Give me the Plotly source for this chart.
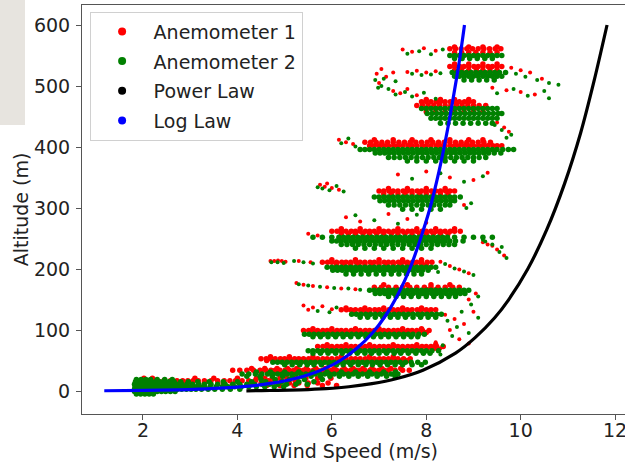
import plotly.graph_objects as go

# ---------------- data ----------------
# Each row: [altitude (m), [wind speeds (m/s) observed at about that altitude]]
anem1_rows = [
    [21, [2.02, 2.2, 3.1, 3.5, 4.0, 4.4, 4.58, 4.74, 4.9, 5.05, 5.24, 5.45, 5.7, 5.98]],
    [17, [2.3, 2.44, 2.58, 2.72, 2.84, 2.95, 3.06, 3.17, 3.3, 3.44, 3.58, 3.72, 3.84, 3.96, 4.1, 4.24, 4.38, 4.52, 4.66, 4.8, 4.94, 5.08, 5.22]],
    [13, [1.9, 2.12, 2.5, 2.88, 3.3, 3.7, 4.04, 4.28, 4.5, 4.7, 4.9, 5.1, 5.3, 5.5, 5.7, 5.92]],
    [9, [4.62, 4.9, 5.2, 5.48, 5.8, 6.1]],
    [37, [4.3, 4.58, 4.84, 5.06, 5.26, 5.46, 5.66, 5.86, 6.05, 6.26, 6.45, 6.66, 6.85, 7.06, 7.25, 7.46]],
    [34, [3.9, 4.05, 4.2, 4.34, 4.48, 4.6, 4.71, 4.8, 4.9, 5.01, 5.1, 5.2, 5.31, 5.4, 5.5, 5.61, 5.7, 5.8, 5.91, 6.0, 6.1, 6.21, 6.3, 6.4, 6.51, 6.6, 6.7, 6.81, 6.9, 7.0, 7.11, 7.2, 7.34, 7.5, 7.64]],
    [31, [4.5, 4.8, 5.1, 5.5, 5.9, 6.3, 6.7, 7.0]],
    [56, [4.7, 5.1, 5.6, 6.2, 6.8, 7.3]],
    [53, [4.5, 4.61, 4.7, 4.8, 4.91, 5.0, 5.1, 5.21, 5.3, 5.4, 5.51, 5.6, 5.7, 5.81, 5.9, 6.0, 6.11, 6.2, 6.3, 6.41, 6.5, 6.6, 6.71, 6.8, 6.9, 7.01, 7.1, 7.2, 7.31, 7.4, 7.52, 7.66]],
    [50, [4.62, 4.78, 4.93, 5.08, 5.24, 5.38, 5.53, 5.68, 5.84, 5.98, 6.13, 6.28, 6.44, 6.58, 6.73, 6.88, 7.04, 7.18, 7.33, 7.48, 7.6]],
    [76, [5.9, 6.3, 6.8, 7.3, 7.8, 8.2]],
    [73, [5.7, 5.81, 5.9, 6.0, 6.11, 6.2, 6.3, 6.41, 6.5, 6.6, 6.71, 6.8, 6.9, 7.01, 7.1, 7.2, 7.31, 7.4, 7.5, 7.61, 7.7, 7.8, 7.91, 8.0, 8.1, 8.22, 8.36]],
    [70, [5.92, 6.07, 6.22, 6.38, 6.52, 6.67, 6.82, 6.98, 7.12, 7.27, 7.42, 7.58, 7.72, 7.87, 8.02, 8.18]],
    [102, [5.6, 6.0, 6.5, 7.0, 7.5, 7.9]],
    [99, [5.4, 5.51, 5.6, 5.7, 5.81, 5.9, 6.0, 6.11, 6.2, 6.3, 6.41, 6.5, 6.6, 6.71, 6.8, 6.9, 7.01, 7.1, 7.2, 7.31, 7.4, 7.5, 7.61, 7.7, 7.8, 7.92, 8.06]],
    [96, [5.62, 5.77, 5.92, 6.08, 6.22, 6.37, 6.52, 6.68, 6.82, 6.97, 7.12, 7.28, 7.42, 7.57, 7.72, 7.88, 8.0]],
    [136, [6.3, 6.7, 7.1, 7.5, 7.9]],
    [133, [6.2, 6.31, 6.4, 6.5, 6.61, 6.7, 6.8, 6.91, 7.0, 7.1, 7.21, 7.3, 7.4, 7.51, 7.6, 7.7, 7.81, 7.9, 8.0, 8.1, 8.2]],
    [129, [6.45, 6.62, 6.8, 6.98, 7.15, 7.32, 7.5, 7.68, 7.85, 8.02]],
    [174, [7.1, 7.6, 8.1, 8.5]],
    [170, [6.9, 7.05, 7.2, 7.36, 7.5, 7.65, 7.8, 7.96, 8.1, 8.25, 8.4, 8.56, 8.7]],
    [166, [7.0, 7.22, 7.4, 7.62, 7.8, 8.02, 8.2, 8.42]],
    [215, [6.0, 6.5, 7.0, 7.5, 7.9]],
    [211, [5.8, 5.91, 6.0, 6.1, 6.21, 6.3, 6.4, 6.51, 6.6, 6.7, 6.81, 6.9, 7.0, 7.11, 7.2, 7.3, 7.41, 7.5, 7.6, 7.71, 7.8, 7.9, 8.02, 8.12]],
    [207, [6.1, 6.25, 6.4, 6.56, 6.7, 6.85, 7.0, 7.16, 7.3, 7.45, 7.6, 7.76, 7.9, 8.0]],
    [266, [6.2, 6.6, 7.0, 7.4, 7.8, 8.2, 8.6]],
    [262, [6.0, 6.11, 6.2, 6.3, 6.41, 6.5, 6.6, 6.71, 6.8, 6.9, 7.01, 7.1, 7.2, 7.31, 7.4, 7.5, 7.61, 7.7, 7.8, 7.91, 8.0, 8.1, 8.21, 8.3, 8.4, 8.51, 8.6, 8.72]],
    [258, [6.2, 6.35, 6.5, 6.66, 6.8, 6.95, 7.1, 7.26, 7.4, 7.55, 7.7, 7.86, 8.0, 8.15, 8.3, 8.46]],
    [332, [7.2, 7.6, 8.0, 8.4]],
    [328, [7.0, 7.1, 7.21, 7.3, 7.4, 7.51, 7.6, 7.7, 7.81, 7.9, 8.0, 8.11, 8.2, 8.3, 8.41, 8.5, 8.6]],
    [323, [7.1, 7.26, 7.4, 7.55, 7.7, 7.86, 8.0, 8.15, 8.3, 8.46]],
    [412, [6.9, 7.3, 7.7, 8.1, 8.5, 8.9, 9.2]],
    [408, [6.7, 6.82, 6.94, 7.06, 7.18, 7.3, 7.42, 7.54, 7.66, 7.78, 7.9, 8.02, 8.14, 8.26, 8.38, 8.5, 8.62, 8.74, 8.86, 8.98, 9.1, 9.22, 9.36]],
    [402, [6.8, 6.9, 7.01, 7.1, 7.2, 7.31, 7.4, 7.5, 7.61, 7.7, 7.8, 7.91, 8.0, 8.1, 8.21, 8.3, 8.4, 8.51, 8.6, 8.7, 8.81, 8.9, 9.0, 9.11, 9.2, 9.3, 9.41, 9.5, 9.6]],
    [478, [8.0, 8.3, 8.6, 8.9]],
    [474, [7.9, 8.0, 8.1, 8.21, 8.3, 8.4, 8.51, 8.6, 8.7, 8.81, 8.9, 9.0]],
    [468, [7.8, 7.92, 8.04, 8.16, 8.28, 8.4, 8.52, 8.64, 8.76, 8.88, 9.0, 9.12, 9.26]],
    [458, [8.0, 8.2, 8.4, 8.6, 8.8, 9.0, 9.2]],
    [536, [8.6, 8.9, 9.2, 9.5]],
    [532, [8.5, 8.6, 8.71, 8.8, 8.9, 9.01, 9.1, 9.2, 9.31, 9.4, 9.5, 9.6]],
    [526, [8.6, 8.75, 8.9, 9.06, 9.2, 9.35, 9.5]],
    [564, [8.6, 8.9, 9.2, 9.5]],
    [561, [8.5, 8.62, 8.74, 8.86, 8.98, 9.1, 9.22, 9.34, 9.46, 9.58]],
    [555, [8.6, 8.75, 8.9, 9.05, 9.2, 9.35, 9.5]],
]

# Isolated readings: [wind speed (m/s), altitude (m)]
anem1_scatter = [
    [5.4, 140], [5.6, 137], [5.8, 139], [6.0, 134], [5.5, 133],
    [5.25, 177], [5.4, 174], [5.6, 172], [5.9, 170], [6.2, 168], [6.5, 167],
    [4.7, 213], [4.78, 213], [4.86, 214], [4.94, 213], [5.02, 212], [5.3, 213], [5.55, 211],
    [8.3, 212], [8.5, 205], [8.7, 199], [8.9, 193],
    [5.5, 258], [5.7, 255], [9.2, 244], [9.4, 238],
    [6.3, 285], [6.6, 278], [7.2, 290], [7.6, 282], [8.0, 276],
    [5.75, 338], [5.85, 335], [6.0, 333], [6.15, 330], [5.9, 340],
    [7.4, 355], [8.0, 360], [8.5, 350], [9.0, 346], [9.3, 358], [8.8, 305],
    [6.15, 412], [6.3, 408], [6.45, 405],
    [9.5, 440], [9.65, 432], [9.75, 425],
    [7.3, 492], [7.45, 488], [7.6, 495], [7.8, 485], [9.4, 497], [9.7, 493], [10.0, 490], [10.3, 486],
    [7.6, 523], [7.8, 525], [8.0, 522], [8.2, 524],
    [6.95, 520], [7.05, 528], [7.15, 515], [7.3, 522], [7.0, 505],
    [9.8, 530], [10.0, 526], [10.2, 522], [10.45, 512],
    [7.5, 560], [7.7, 556], [7.95, 562], [8.2, 558],
    [8.4, 125], [8.6, 118], [8.8, 110], [8.5, 100], [8.7, 85], [8.9, 78], [8.3, 70], [9.0, 130], [8.2, 80],
    [9.3, 240], [9.5, 232], [9.65, 222], [8.9, 150], [9.05, 160],
]

anem2_rows = [
    [-5, [1.86, 1.95, 2.04, 2.13, 2.22]],
    [-1, [1.82, 1.9, 1.98, 2.06, 2.14, 2.22, 2.3, 2.39, 2.48, 2.58, 2.68]],
    [3, [1.82, 1.9, 1.98, 2.06, 2.14, 2.22, 2.3, 2.38, 2.46, 2.55, 2.64, 2.73, 2.82, 2.92, 3.02, 3.12, 3.24, 3.38, 3.52, 3.68, 3.85, 4.05]],
    [7, [1.83, 1.92, 2.0, 2.08, 2.16, 2.24, 2.32, 2.4, 2.48, 2.56, 2.64, 2.72, 2.8, 2.9, 3.0, 3.1, 3.2, 3.3, 3.42, 3.55, 3.68, 3.8, 3.94, 4.08, 4.24, 4.4, 4.58, 4.78, 4.98]],
    [11, [1.82, 1.9, 1.98, 2.06, 2.14, 2.22, 2.3, 2.38, 2.46, 2.55, 2.64, 2.72, 2.82, 2.93, 3.05, 3.18, 3.3, 3.44, 3.58, 3.74, 3.9, 4.05, 4.2, 4.36, 4.52, 4.68, 4.86, 5.04, 5.24, 5.48]],
    [15, [1.84, 1.92, 2.0, 2.09, 2.18, 2.27, 2.36, 2.45, 2.55, 2.66, 2.8, 2.96, 3.16, 3.4, 3.7, 4.0, 4.3, 4.6, 4.94, 5.3, 5.62]],
    [19, [1.86, 1.96, 2.06, 2.16, 2.3, 2.46, 2.62, 4.5, 4.8, 5.1, 5.42, 5.8]],
    [31, [4.4, 4.7, 5.0, 5.3, 5.6, 5.9, 6.2, 6.5, 6.8, 7.1, 7.35]],
    [28, [4.1, 4.24, 4.38, 4.52, 4.64, 4.75, 4.85, 4.95, 5.05, 5.15, 5.25, 5.35, 5.45, 5.55, 5.65, 5.75, 5.85, 5.95, 6.05, 6.15, 6.25, 6.35, 6.45, 6.55, 6.65, 6.75, 6.85, 6.95, 7.05, 7.15, 7.26, 7.4]],
    [24, [4.2, 4.48, 4.74, 4.96, 5.16, 5.36, 5.56, 5.76, 5.96, 6.16, 6.36, 6.56, 6.76, 6.96, 7.16, 7.34]],
    [47, [4.75, 4.85, 4.95, 5.05, 5.15, 5.25, 5.35, 5.45, 5.55, 5.65, 5.75, 5.85, 5.95, 6.05, 6.15, 6.25, 6.35, 6.45, 6.55, 6.65, 6.75, 6.85, 6.95, 7.05, 7.15, 7.25, 7.35, 7.45, 7.56, 7.68, 7.82, 7.98]],
    [43, [5.0, 5.16, 5.32, 5.48, 5.62, 5.78, 5.94, 6.1, 6.24, 6.4, 6.56, 6.72, 6.86, 7.02, 7.18, 7.34, 7.5, 7.7, 7.9]],
    [66, [5.5, 5.6, 5.7, 5.8, 5.9, 6.0, 6.1, 6.2, 6.3, 6.4, 6.5, 6.6, 6.7, 6.8, 6.9, 7.0, 7.1, 7.2, 7.3, 7.4, 7.5, 7.6, 7.7, 7.8, 7.9, 8.0, 8.12, 8.26]],
    [62, [5.6, 5.76, 5.92, 6.08, 6.22, 6.38, 6.54, 6.7, 6.84, 7.0, 7.16, 7.32, 7.46, 7.62, 7.78, 7.94, 8.08]],
    [93, [5.42, 5.52, 5.62, 5.72, 5.82, 5.92, 6.02, 6.12, 6.22, 6.32, 6.42, 6.52, 6.62, 6.72, 6.82, 6.92, 7.02, 7.12, 7.22, 7.32, 7.42, 7.52, 7.62, 7.72, 7.84, 7.96]],
    [89, [5.6, 5.76, 5.92, 6.08, 6.24, 6.4, 6.56, 6.72, 6.88, 7.04, 7.2, 7.36, 7.52, 7.68, 7.82]],
    [126, [6.42, 6.52, 6.62, 6.72, 6.82, 6.92, 7.02, 7.12, 7.22, 7.32, 7.42, 7.52, 7.62, 7.72, 7.82, 7.92, 8.02, 8.12, 8.22, 8.32]],
    [121, [6.6, 6.76, 6.92, 7.08, 7.24, 7.4, 7.56, 7.72, 7.88, 8.04, 8.2]],
    [165, [6.8, 6.9, 7.0, 7.1, 7.2, 7.3, 7.4, 7.5, 7.6, 7.7, 7.8, 7.9, 8.0, 8.1, 8.2, 8.3, 8.4, 8.5, 8.6, 8.7, 8.8, 8.9]],
    [160, [6.92, 7.02, 7.12, 7.22, 7.32, 7.42, 7.52, 7.62, 7.72, 7.82, 7.92, 8.02, 8.12, 8.22, 8.32, 8.42, 8.52, 8.62, 8.72, 8.82]],
    [155, [7.2, 7.36, 7.52, 7.68, 7.84, 8.0, 8.16, 8.32, 8.48, 8.62]],
    [203, [5.9, 6.0, 6.1, 6.2, 6.3, 6.4, 6.5, 6.6, 6.7, 6.8, 6.9, 7.0, 7.1, 7.2, 7.3, 7.4, 7.5, 7.6, 7.7, 7.8, 7.9, 8.0, 8.1, 8.2]],
    [198, [6.02, 6.12, 6.22, 6.32, 6.42, 6.52, 6.62, 6.72, 6.82, 6.92, 7.02, 7.12, 7.22, 7.32, 7.42, 7.52, 7.62, 7.72, 7.82, 7.92, 8.04]],
    [192, [6.3, 6.46, 6.62, 6.78, 6.94, 7.1, 7.26, 7.42, 7.58, 7.74, 7.9]],
    [252, [5.6, 5.8, 6.0, 6.15, 6.25, 6.35, 6.45, 6.55, 6.65, 6.75, 6.85, 6.95, 7.05, 7.15, 7.25, 7.35, 7.45, 7.55, 7.65, 7.75, 7.85, 7.95, 8.05, 8.15, 8.25, 8.35, 8.45, 8.6, 8.8, 9.0, 9.2, 9.4]],
    [246, [6.0, 6.1, 6.2, 6.3, 6.4, 6.5, 6.6, 6.7, 6.8, 6.9, 7.0, 7.1, 7.2, 7.3, 7.4, 7.5, 7.6, 7.7, 7.8, 7.9, 8.0, 8.1, 8.2, 8.3, 8.4, 8.5, 8.62, 8.78]],
    [240, [6.2, 6.32, 6.44, 6.56, 6.68, 6.8, 6.92, 7.04, 7.16, 7.28, 7.4, 7.52, 7.64, 7.76, 7.88, 8.0, 8.12, 8.24, 8.36, 8.48, 8.6]],
    [234, [6.5, 6.7, 6.9, 7.1, 7.3, 7.5, 7.7, 7.9, 8.1]],
    [318, [6.9, 7.0, 7.1, 7.2, 7.3, 7.4, 7.5, 7.6, 7.7, 7.8, 7.9, 8.0, 8.1, 8.2, 8.3, 8.4, 8.5, 8.6, 8.72]],
    [312, [7.02, 7.12, 7.22, 7.32, 7.42, 7.52, 7.62, 7.72, 7.82, 7.92, 8.02, 8.12, 8.22, 8.32, 8.42, 8.52, 8.6]],
    [305, [7.2, 7.32, 7.44, 7.56, 7.68, 7.8, 7.92, 8.04, 8.16, 8.28, 8.4, 8.5]],
    [298, [7.5, 7.7, 7.9, 8.1, 8.3]],
    [396, [6.6, 6.7, 6.8, 6.9, 7.0, 7.1, 7.2, 7.3, 7.4, 7.5, 7.6, 7.7, 7.8, 7.9, 8.0, 8.1, 8.2, 8.3, 8.4, 8.5, 8.6, 8.7, 8.8, 8.9, 9.0, 9.1, 9.2, 9.3, 9.4, 9.5, 9.62, 9.74, 9.85]],
    [390, [6.92, 7.02, 7.12, 7.22, 7.32, 7.42, 7.52, 7.62, 7.72, 7.82, 7.92, 8.02, 8.12, 8.22, 8.32, 8.42, 8.52, 8.62, 8.72, 8.82, 8.92, 9.02, 9.12, 9.22, 9.32, 9.44, 9.58]],
    [383, [7.2, 7.32, 7.44, 7.56, 7.68, 7.8, 7.92, 8.04, 8.16, 8.28, 8.4, 8.52, 8.64, 8.76, 8.88, 9.0, 9.12, 9.26]],
    [377, [7.6, 7.8, 8.0, 8.2, 8.4, 8.6, 8.8, 9.0]],
    [463, [7.9, 8.0, 8.1, 8.2, 8.3, 8.4, 8.5, 8.6, 8.7, 8.8, 8.9, 9.0, 9.1, 9.2, 9.3, 9.4, 9.5]],
    [455, [8.02, 8.12, 8.22, 8.32, 8.42, 8.52, 8.62, 8.72, 8.82, 8.92, 9.02, 9.12, 9.22, 9.32, 9.42, 9.52, 9.6]],
    [447, [8.1, 8.2, 8.3, 8.4, 8.5, 8.6, 8.7, 8.8, 8.9, 9.0, 9.1, 9.2, 9.3, 9.4, 9.5]],
    [439, [8.3, 8.46, 8.62, 8.78, 8.94, 9.1, 9.26, 9.4]],
    [522, [8.55, 8.65, 8.75, 8.85, 8.95, 9.05, 9.15, 9.25, 9.35, 9.45, 9.55, 9.68]],
    [516, [8.6, 8.7, 8.8, 8.9, 9.0, 9.1, 9.2, 9.3, 9.4, 9.5, 9.6]],
    [510, [8.8, 8.96, 9.12, 9.28, 9.44]],
    [550, [8.5, 8.6, 8.7, 8.8, 8.9, 9.0, 9.1, 9.2, 9.3, 9.4, 9.5, 9.6]],
    [545, [8.6, 8.76, 8.92, 9.08, 9.24, 9.4]],
]

anem2_scatter = [
    [5.7, 131], [5.95, 129], [6.1, 137],
    [5.3, 175], [5.5, 173], [5.75, 171], [6.05, 169], [6.35, 168], [6.6, 166],
    [4.72, 211], [4.85, 211], [4.98, 210], [5.2, 213], [5.4, 211], [5.6, 209],
    [8.4, 208], [8.6, 201], [8.8, 196], [9.0, 190], [8.25, 195],
    [9.4, 240], [9.6, 236], [9.2, 248],
    [6.5, 288], [6.9, 280], [7.4, 274], [7.8, 289],
    [5.8, 332], [5.95, 329], [6.1, 336], [6.25, 327], [5.7, 334],
    [7.7, 348], [8.3, 357], [8.8, 343], [9.2, 352], [8.85, 300], [8.95, 308],
    [6.2, 406], [6.35, 414], [6.5, 401],
    [9.45, 436], [9.6, 428], [9.8, 420], [9.7, 415], [8.2, 479],
    [7.35, 486], [7.55, 490], [7.7, 483], [7.95, 489],
    [9.5, 488], [9.85, 495], [10.15, 484], [10.5, 492], [10.6, 480],
    [7.7, 520], [7.9, 518], [8.1, 519], [8.3, 521],
    [6.92, 510], [7.05, 500], [7.2, 495], [7.1, 512], [7.35, 508], [6.98, 497],
    [9.9, 520], [10.1, 515], [10.35, 510], [10.6, 505], [10.8, 502],
    [7.6, 553], [7.85, 557], [8.1, 552], [8.35, 560],
    [8.45, 115], [8.65, 105], [8.9, 95], [8.55, 90], [8.35, 75], [9.1, 120], [8.75, 130], [8.3, 60],
    [9.55, 228], [9.7, 218], [9.25, 245], [8.95, 142], [9.1, 155],
]

# Model curves
log_law_alt = [0.45, 1, 2, 3, 5, 8, 12, 18, 25, 35, 50, 70, 95, 125, 160, 200, 250, 300, 360, 420, 480, 540, 600]
log_law_speed = [1.18, 2.03, 2.77, 3.19, 3.74, 4.23, 4.66, 5.09, 5.44, 5.8, 6.18, 6.53, 6.86, 7.15, 7.41, 7.65, 7.88, 8.08, 8.27, 8.43, 8.57, 8.7, 8.81]

power_law_alt = [0.35, 0.6, 1, 2, 4, 7, 12, 20, 34, 62, 87, 120, 149, 200, 264, 340, 423, 510, 600]
power_law_speed = [4.19, 4.51, 4.85, 5.34, 5.88, 6.36, 6.85, 7.36, 7.93, 8.62, 9.03, 9.45, 9.74, 10.15, 10.55, 10.93, 11.27, 11.56, 11.83]

series_names = ["Anemometer 1", "Anemometer 2", "Power Law", "Log Law"]
series_colors = ["#ff0000", "#008000", "#000000", "#0000ff"]

x_ticks = [2, 4, 6, 8, 10, 12]
y_ticks = [0, 100, 200, 300, 400, 500, 600]


def rows_xy(rows):
    xs, ys = [], []
    for alt, speeds in rows:
        for s in speeds:
            xs.append(s)
            ys.append(alt)
    return xs, ys


def pairs_xy(pairs):
    return [p[0] for p in pairs], [p[1] for p in pairs]


a1x, a1y = rows_xy(anem1_rows)
a1sx, a1sy = pairs_xy(anem1_scatter)
a2x, a2y = rows_xy(anem2_rows)
a2sx, a2sy = pairs_xy(anem2_scatter)

FONT = "DejaVu Sans, Arial, sans-serif"
TXT = "#222222"
AX = "#555555"

fig = go.Figure()
fig.add_trace(go.Scatter(x=a1x, y=a1y, mode="markers", showlegend=False,
                         marker=dict(color=series_colors[0], size=5.5, line=dict(width=0))))
fig.add_trace(go.Scatter(x=a1sx, y=a1sy, mode="markers", showlegend=False,
                         marker=dict(color=series_colors[0], size=4, line=dict(width=0))))
fig.add_trace(go.Scatter(x=a2x, y=a2y, mode="markers", showlegend=False,
                         marker=dict(color=series_colors[1], size=5.5, line=dict(width=0))))
fig.add_trace(go.Scatter(x=a2sx, y=a2sy, mode="markers", showlegend=False,
                         marker=dict(color=series_colors[1], size=4, line=dict(width=0))))
fig.add_trace(go.Scatter(x=power_law_speed, y=power_law_alt, mode="lines", showlegend=False,
                         line=dict(color=series_colors[2], width=3.2, shape="spline", smoothing=0.8)))
fig.add_trace(go.Scatter(x=log_law_speed, y=log_law_alt, mode="lines", showlegend=False,
                         line=dict(color=series_colors[3], width=3.2, shape="spline", smoothing=0.8)))

# legend entries (shown as dots, as in the reference)
for name, col in zip(series_names, series_colors):
    fig.add_trace(go.Scatter(x=[None], y=[None], mode="markers", name=name,
                             legendgroup=name, marker=dict(color=col, size=8)))

fig.update_layout(
    width=625, height=462,
    margin=dict(l=82, r=0, t=5, b=48, autoexpand=False),
    paper_bgcolor="white", plot_bgcolor="white",
    font=dict(family=FONT, size=19, color=TXT),
    showlegend=True,
    legend=dict(x=0.014, y=0.984, xanchor="left", yanchor="top",
                bgcolor="rgba(255,255,255,0.85)", bordercolor="#d0d0d0", borderwidth=1,
                font=dict(family=FONT, size=19, color=TXT),
                tracegroupgap=2, itemwidth=53),
    xaxis=dict(range=[0.708, 12.21], tickmode="array", tickvals=x_ticks, automargin=False,
               showgrid=False, zeroline=False, showline=True, linecolor=AX, linewidth=1,
               mirror=True, ticks="outside", ticklen=5, tickcolor=AX,
               ticklabeloverflow="allow", ticklabelstandoff=-6,
               tickfont=dict(family=FONT, size=19, color=TXT),
               title=dict(text="Wind Speed (m/s)", standoff=0,
                          font=dict(family=FONT, size=19, color=TXT))),
    yaxis=dict(range=[-37.7, 632.8], tickmode="array", tickvals=y_ticks, automargin=False,
               showgrid=False, zeroline=False, showline=True, linecolor=AX, linewidth=1,
               ticks="outside", ticklen=5, tickcolor=AX, ticklabelstandoff=2,
               tickfont=dict(family=FONT, size=19, color=TXT),
               title=dict(text="Altitude (m)", standoff=0,
                          font=dict(family=FONT, size=19, color=TXT))),
    shapes=[dict(type="rect", xref="paper", yref="paper", x0=-0.152, x1=-0.105, y0=0.7066, y1=1.02,
                 fillcolor="#e7e4df", line=dict(width=0), layer="below")],
)

# remove the browser's default page margin so the figure sits at the window's corner
fig.write_html("out.html",
               config={"displayModeBar": False},
               post_script="document.body.style.margin='0';document.body.style.padding='0';"
                           "document.documentElement.style.overflow='hidden';")
